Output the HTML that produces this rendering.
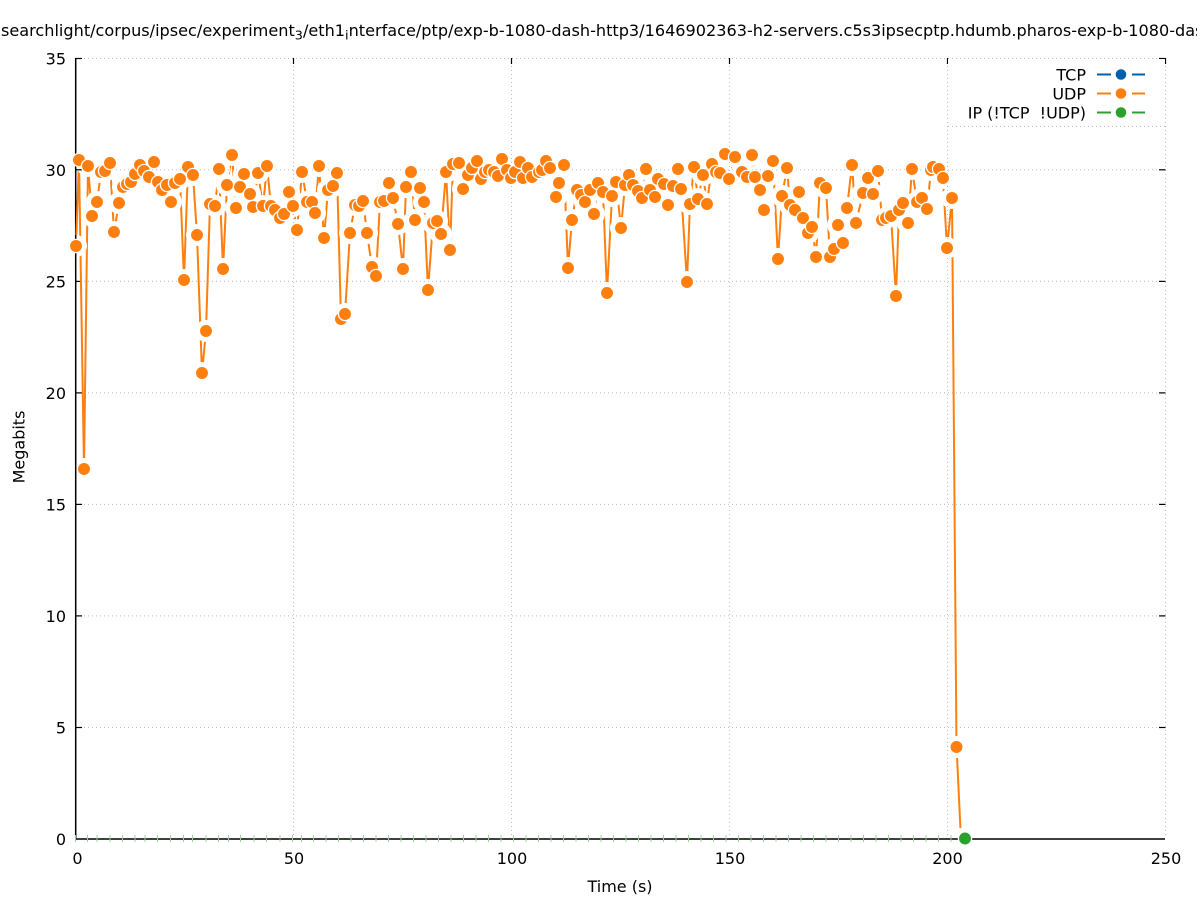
<!DOCTYPE html>
<html><head><meta charset="utf-8"><style>
html,body{margin:0;padding:0;background:#fff;}
svg{display:block;}
text{font-family:"DejaVu Sans","Liberation Sans",sans-serif;fill:#000;}
</style></head><body>
<svg width="1197" height="900" viewBox="0 0 1197 900" xmlns="http://www.w3.org/2000/svg">
<defs>
<marker id="mo" markerUnits="userSpaceOnUse" markerWidth="20" markerHeight="20" refX="10" refY="10" overflow="visible"><circle cx="10" cy="10" r="6.6" fill="#ff7f0e" stroke="#fff" stroke-width="1.3"/></marker>
<marker id="mk" markerUnits="userSpaceOnUse" markerWidth="30" markerHeight="30" refX="15" refY="15" overflow="visible"><circle cx="15" cy="15" r="11" fill="#000"/></marker>
<mask id="gap" maskUnits="userSpaceOnUse" x="0" y="0" width="1197" height="900">
<rect x="0" y="0" width="1197" height="900" fill="#fff"/>
<polyline fill="none" stroke="none" marker-start="url(#mk)" marker-mid="url(#mk)" marker-end="url(#mk)" points="76,246 79,160 84,469 88,166 92,216 97,202 101,172 105,171 110,163 114,232 119,203 123,187 127,184 131,182 135,174 140,165 144,171 149,177 154,162 158,182 162,190 167,185 171,202 175,183 180,179 184,280 188,167 193,175 197,235 202,373 206,331 210,204 215,206 219,169 223,269 227,185 232,155 236,208 240,187 244,174 250,194 253,207 258,173 263,206 267,166 271,206 275,210 280,218 284,214 289,192 293,206 297,230 302,172 307,202 312,202 315,213 319,166 324,238 328,190 333,186 337,173 341,319 345,314 350,233 355,205 359,206 363,201 367,233 372,267 376,276 380,202 384,201 389,183 393,198 398,224 403,269 406,187 411,172 415,220 420,188 424,202 428,290 433,223 437,221 441,234 446,172 450,250 453,164 459,163 463,189 468,175 472,168 477,161 481,179 485,172 489,170 494,172 498,176 502,159 507,170 511,178 515,172 520,162 523,178 528,168 532,177 539,172 542,170 546,161 550,168 556,197 559,183 564,165 568,268 572,220 577,190 581,195 585,202 590,190 594,214 598,183 603,192 607,293 612,196 616,182 621,228 625,185 629,175 633,185 638,191 642,198 646,169 650,190 655,197 658,179 664,184 668,205 673,186 678,169 681,189 687,282 690,204 694,167 698,199 703,175 707,204 712,164 716,172 720,173 725,154 729,179 735,157 742,172 747,177 752,155 755,177 760,190 764,210 768,176 773,161 778,259 782,196 787,168 790,205 795,210 799,192 803,218 808,233 812,227 816,257 820,183 826,188 830,257 834,249 838,225 843,243 847,208 852,165 856,223 863,193 868,178 873,194 878,171 882,220 886,218 891,216 896,296 899,210 903,203 908,223 912,169 917,202 922,198 927,209 931,170 933,167 939,169 943,178 947,248 952,198 956.5,747"/>
</mask>
</defs>

<!-- grid -->
<g stroke="#bdbdbd" stroke-width="1" stroke-dasharray="1,3" fill="none">
<line x1="76" y1="727.5" x2="1165" y2="727.5"/>
<line x1="76" y1="615.9" x2="1165" y2="615.9"/>
<line x1="76" y1="504.4" x2="1165" y2="504.4"/>
<line x1="76" y1="392.9" x2="1165" y2="392.9"/>
<line x1="76" y1="281.4" x2="1165" y2="281.4"/>
<line x1="76" y1="169.8" x2="1165" y2="169.8"/>
<line x1="76" y1="58.5" x2="1165" y2="58.5"/>
<line x1="293.5" y1="58" x2="293.5" y2="838"/>
<line x1="511.5" y1="58" x2="511.5" y2="838"/>
<line x1="729.5" y1="58" x2="729.5" y2="838"/>
<line x1="947.5" y1="58" x2="947.5" y2="838"/>
<line x1="1165.5" y1="58" x2="1165.5" y2="838"/>
</g>

<!-- axes -->
<g stroke="#000" stroke-width="1.5" fill="none">
<line x1="75.7" y1="58" x2="75.7" y2="839"/>
<line x1="75" y1="839" x2="1165" y2="839"/>
</g>
<g stroke="#000" stroke-width="1.2">
<line x1="76" y1="58.5" x2="82" y2="58.5"/>
<line x1="76" y1="169.8" x2="82" y2="169.8"/>
<line x1="76" y1="281.4" x2="82" y2="281.4"/>
<line x1="76" y1="392.9" x2="82" y2="392.9"/>
<line x1="76" y1="504.4" x2="82" y2="504.4"/>
<line x1="76" y1="615.9" x2="82" y2="615.9"/>
<line x1="76" y1="727.5" x2="82" y2="727.5"/>
<line x1="1159" y1="58.5" x2="1165.5" y2="58.5"/>
<line x1="1159" y1="169.8" x2="1165.5" y2="169.8"/>
<line x1="1159" y1="281.4" x2="1165.5" y2="281.4"/>
<line x1="1159" y1="392.9" x2="1165.5" y2="392.9"/>
<line x1="1159" y1="504.4" x2="1165.5" y2="504.4"/>
<line x1="1159" y1="615.9" x2="1165.5" y2="615.9"/>
<line x1="1159" y1="727.5" x2="1165.5" y2="727.5"/>
<line x1="293.5" y1="58" x2="293.5" y2="64"/>
<line x1="511.5" y1="58" x2="511.5" y2="64"/>
<line x1="729.5" y1="58" x2="729.5" y2="64"/>
<line x1="947.5" y1="58" x2="947.5" y2="64"/>
<line x1="1165.5" y1="58" x2="1165.5" y2="64"/>
</g>

<!-- green marks along x axis -->
<g stroke="#9fd29f" stroke-width="1">
<line x1="75.5" y1="835" x2="75.5" y2="842"/><line x1="87.5" y1="835" x2="87.5" y2="842"/><line x1="97" y1="835" x2="97" y2="842"/><line x1="110" y1="835" x2="110" y2="842"/><line x1="122.5" y1="835" x2="122.5" y2="842"/><line x1="135" y1="835" x2="135" y2="842"/><line x1="145" y1="835" x2="145" y2="842"/><line x1="157.5" y1="835" x2="157.5" y2="842"/><line x1="170.5" y1="835" x2="170.5" y2="842"/><line x1="183.5" y1="835" x2="183.5" y2="842"/><line x1="192.5" y1="835" x2="192.5" y2="842"/><line x1="206" y1="835" x2="206" y2="842"/><line x1="218.5" y1="835" x2="218.5" y2="842"/><line x1="228.5" y1="835" x2="228.5" y2="842"/><line x1="240.5" y1="835" x2="240.5" y2="842"/><line x1="254" y1="835" x2="254" y2="842"/><line x1="266.5" y1="835" x2="266.5" y2="842"/><line x1="280" y1="835" x2="280" y2="842"/><line x1="292.5" y1="835" x2="292.5" y2="842"/><line x1="301.5" y1="835" x2="301.5" y2="842"/><line x1="313.5" y1="835" x2="313.5" y2="842"/><line x1="326" y1="835" x2="326" y2="842"/><line x1="338.5" y1="835" x2="338.5" y2="842"/><line x1="351" y1="835" x2="351" y2="842"/><line x1="363.5" y1="835" x2="363.5" y2="842"/><line x1="376" y1="835" x2="376" y2="842"/><line x1="388.5" y1="835" x2="388.5" y2="842"/><line x1="401" y1="835" x2="401" y2="842"/><line x1="413.5" y1="835" x2="413.5" y2="842"/><line x1="426" y1="835" x2="426" y2="842"/><line x1="438.5" y1="835" x2="438.5" y2="842"/><line x1="451" y1="835" x2="451" y2="842"/><line x1="463.5" y1="835" x2="463.5" y2="842"/><line x1="476" y1="835" x2="476" y2="842"/><line x1="488.5" y1="835" x2="488.5" y2="842"/><line x1="501" y1="835" x2="501" y2="842"/><line x1="513.5" y1="835" x2="513.5" y2="842"/><line x1="526" y1="835" x2="526" y2="842"/><line x1="538.5" y1="835" x2="538.5" y2="842"/><line x1="551" y1="835" x2="551" y2="842"/><line x1="563.5" y1="835" x2="563.5" y2="842"/><line x1="576" y1="835" x2="576" y2="842"/><line x1="588.5" y1="835" x2="588.5" y2="842"/><line x1="601" y1="835" x2="601" y2="842"/><line x1="613.5" y1="835" x2="613.5" y2="842"/><line x1="626" y1="835" x2="626" y2="842"/><line x1="638.5" y1="835" x2="638.5" y2="842"/><line x1="651" y1="835" x2="651" y2="842"/><line x1="663.5" y1="835" x2="663.5" y2="842"/><line x1="676" y1="835" x2="676" y2="842"/><line x1="688.5" y1="835" x2="688.5" y2="842"/><line x1="701" y1="835" x2="701" y2="842"/><line x1="713.5" y1="835" x2="713.5" y2="842"/><line x1="726" y1="835" x2="726" y2="842"/><line x1="738.5" y1="835" x2="738.5" y2="842"/><line x1="751" y1="835" x2="751" y2="842"/><line x1="763.5" y1="835" x2="763.5" y2="842"/><line x1="776" y1="835" x2="776" y2="842"/><line x1="788.5" y1="835" x2="788.5" y2="842"/><line x1="801" y1="835" x2="801" y2="842"/><line x1="813.5" y1="835" x2="813.5" y2="842"/><line x1="826" y1="835" x2="826" y2="842"/><line x1="838.5" y1="835" x2="838.5" y2="842"/><line x1="851" y1="835" x2="851" y2="842"/><line x1="863.5" y1="835" x2="863.5" y2="842"/><line x1="876" y1="835" x2="876" y2="842"/><line x1="888.5" y1="835" x2="888.5" y2="842"/><line x1="901" y1="835" x2="901" y2="842"/><line x1="913.5" y1="835" x2="913.5" y2="842"/><line x1="926" y1="835" x2="926" y2="842"/><line x1="938.5" y1="835" x2="938.5" y2="842"/><line x1="951" y1="835" x2="951" y2="842"/>
</g>

<!-- UDP series line with gaps -->
<polyline fill="none" stroke="#ff7f0e" stroke-width="2" stroke-linejoin="round" mask="url(#gap)" points="76,246 79,160 84,469 88,166 92,216 97,202 101,172 105,171 110,163 114,232 119,203 123,187 127,184 131,182 135,174 140,165 144,171 149,177 154,162 158,182 162,190 167,185 171,202 175,183 180,179 184,280 188,167 193,175 197,235 202,373 206,331 210,204 215,206 219,169 223,269 227,185 232,155 236,208 240,187 244,174 250,194 253,207 258,173 263,206 267,166 271,206 275,210 280,218 284,214 289,192 293,206 297,230 302,172 307,202 312,202 315,213 319,166 324,238 328,190 333,186 337,173 341,319 345,314 350,233 355,205 359,206 363,201 367,233 372,267 376,276 380,202 384,201 389,183 393,198 398,224 403,269 406,187 411,172 415,220 420,188 424,202 428,290 433,223 437,221 441,234 446,172 450,250 453,164 459,163 463,189 468,175 472,168 477,161 481,179 485,172 489,170 494,172 498,176 502,159 507,170 511,178 515,172 520,162 523,178 528,168 532,177 539,172 542,170 546,161 550,168 556,197 559,183 564,165 568,268 572,220 577,190 581,195 585,202 590,190 594,214 598,183 603,192 607,293 612,196 616,182 621,228 625,185 629,175 633,185 638,191 642,198 646,169 650,190 655,197 658,179 664,184 668,205 673,186 678,169 681,189 687,282 690,204 694,167 698,199 703,175 707,204 712,164 716,172 720,173 725,154 729,179 735,157 742,172 747,177 752,155 755,177 760,190 764,210 768,176 773,161 778,259 782,196 787,168 790,205 795,210 799,192 803,218 808,233 812,227 816,257 820,183 826,188 830,257 834,249 838,225 843,243 847,208 852,165 856,223 863,193 868,178 873,194 878,171 882,220 886,218 891,216 896,296 899,210 903,203 908,223 912,169 917,202 922,198 927,209 931,170 933,167 939,169 943,178 947,248 952,198 956.5,747"/>
<line x1="957.1" y1="758" x2="960.4" y2="828" stroke="#ff7f0e" stroke-width="2"/>

<!-- UDP markers -->
<polyline fill="none" stroke="none" marker-start="url(#mo)" marker-mid="url(#mo)" marker-end="url(#mo)" points="76,246 79,160 84,469 88,166 92,216 97,202 101,172 105,171 110,163 114,232 119,203 123,187 127,184 131,182 135,174 140,165 144,171 149,177 154,162 158,182 162,190 167,185 171,202 175,183 180,179 184,280 188,167 193,175 197,235 202,373 206,331 210,204 215,206 219,169 223,269 227,185 232,155 236,208 240,187 244,174 250,194 253,207 258,173 263,206 267,166 271,206 275,210 280,218 284,214 289,192 293,206 297,230 302,172 307,202 312,202 315,213 319,166 324,238 328,190 333,186 337,173 341,319 345,314 350,233 355,205 359,206 363,201 367,233 372,267 376,276 380,202 384,201 389,183 393,198 398,224 403,269 406,187 411,172 415,220 420,188 424,202 428,290 433,223 437,221 441,234 446,172 450,250 453,164 459,163 463,189 468,175 472,168 477,161 481,179 485,172 489,170 494,172 498,176 502,159 507,170 511,178 515,172 520,162 523,178 528,168 532,177 539,172 542,170 546,161 550,168 556,197 559,183 564,165 568,268 572,220 577,190 581,195 585,202 590,190 594,214 598,183 603,192 607,293 612,196 616,182 621,228 625,185 629,175 633,185 638,191 642,198 646,169 650,190 655,197 658,179 664,184 668,205 673,186 678,169 681,189 687,282 690,204 694,167 698,199 703,175 707,204 712,164 716,172 720,173 725,154 729,179 735,157 742,172 747,177 752,155 755,177 760,190 764,210 768,176 773,161 778,259 782,196 787,168 790,205 795,210 799,192 803,218 808,233 812,227 816,257 820,183 826,188 830,257 834,249 838,225 843,243 847,208 852,165 856,223 863,193 868,178 873,194 878,171 882,220 886,218 891,216 896,296 899,210 903,203 908,223 912,169 917,202 922,198 927,209 931,170 933,167 939,169 943,178 947,248 952,198 956.5,747"/>

<!-- IP final marker -->
<circle cx="965" cy="838.5" r="6.6" fill="#2ca02c" stroke="#fff" stroke-width="1.3"/>

<!-- legend -->
<rect x="948" y="59" width="217" height="67" fill="#fff"/>
<g stroke="#bdbdbd" stroke-width="1" stroke-dasharray="1,3" fill="none">
<line x1="948" y1="126.5" x2="1165" y2="126.5"/>
</g>
<g font-size="16" text-anchor="end">
<text x="1086" y="80.5">TCP</text>
<text x="1086" y="99.5">UDP</text>
<text x="1086" y="118.5">IP (!TCP&#160; !UDP)</text>
</g>
<g stroke-width="2">
<line x1="1097" y1="74.5" x2="1111" y2="74.5" stroke="#0060ad"/><line x1="1132" y1="74.5" x2="1145" y2="74.5" stroke="#0060ad"/>
<line x1="1097" y1="93.5" x2="1111" y2="93.5" stroke="#ff7f0e"/><line x1="1132" y1="93.5" x2="1145" y2="93.5" stroke="#ff7f0e"/>
<line x1="1097" y1="112.5" x2="1111" y2="112.5" stroke="#2ca02c"/><line x1="1132" y1="112.5" x2="1145" y2="112.5" stroke="#2ca02c"/>
</g>
<circle cx="1121" cy="74.5" r="5.3" fill="#0060ad"/>
<circle cx="1121" cy="93.5" r="5.3" fill="#ff7f0e"/>
<circle cx="1121" cy="112.5" r="5.3" fill="#2ca02c"/>

<!-- tick labels -->
<g font-size="16" text-anchor="end">
<text x="66" y="64.5">35</text>
<text x="66" y="175.8">30</text>
<text x="66" y="287.4">25</text>
<text x="66" y="398.9">20</text>
<text x="66" y="510.4">15</text>
<text x="66" y="621.9">10</text>
<text x="66" y="733.5">5</text>
<text x="66" y="845">0</text>
</g>
<g font-size="16" text-anchor="middle">
<text x="77.5" y="864">0</text>
<text x="294" y="864">50</text>
<text x="512" y="864">100</text>
<text x="730" y="864">150</text>
<text x="947.5" y="864">200</text>
<text x="1166" y="864">250</text>
</g>

<!-- axis titles -->
<text x="620" y="892" font-size="16" text-anchor="middle">Time (s)</text>
<text transform="translate(24.5,447) rotate(-90)" font-size="16" text-anchor="middle">Megabits</text>

<!-- title -->
<text x="1" y="36" font-size="16.1">searchlight/corpus/ipsec/experiment<tspan font-size="12.8" dy="3.5">3</tspan><tspan dy="-3.5">/eth1</tspan><tspan font-size="12.8" dy="3.5">i</tspan><tspan dy="-3.5">nterface/ptp/exp-b-1080-dash-http3/1646902363-h2-servers.c5s3ipsecptp.hdumb.pharos-exp-b-1080-dash-http3</tspan></text>
</svg>
</body></html>
